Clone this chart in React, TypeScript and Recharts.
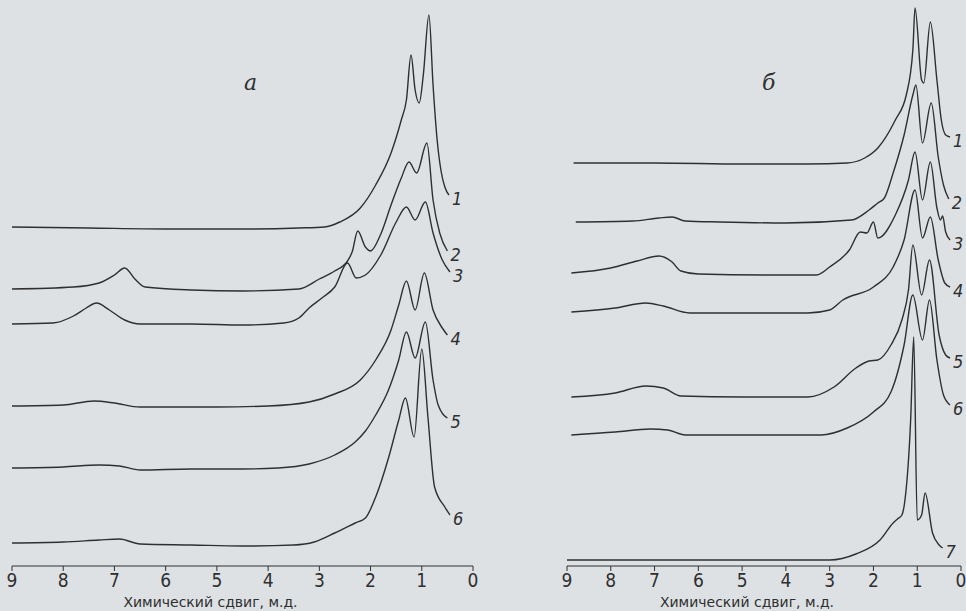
import { LineChart, Line, XAxis, YAxis } from 'recharts';

// спектры ПМР, панель а — [сдвиг, м.д., интенсивность над базовой линией]
const a1 = [[9, 1], [7.5, 0], [6, -1], [4.5, -1], [3.4, 0], [2.9, 1], [2.6, 6], [2.2, 20], [1.9, 43], [1.6, 75], [1.4, 108], [1.3, 128], [1.21, 173], [1.13, 138], [1.05, 125], [0.97, 153], [0.86, 213], [0.78, 143], [0.7, 88], [0.62, 56], [0.55, 41], [0.47, 33]];
const a2 = [[9, 0], [7.8, 2], [7.3, 6], [7, 14], [6.8, 21], [6.6, 10], [6.4, 2], [5.5, -1], [4.5, -2], [3.4, 0], [3, 10], [2.7, 18], [2.45, 28], [2.36, 37], [2.25, 58], [2.1, 42], [2, 38], [1.8, 55], [1.6, 84], [1.4, 111], [1.25, 127], [1.1, 116], [0.9, 146], [0.78, 89], [0.65, 56], [0.5, 38]];
const a3 = [[9, 0], [8.2, 1], [7.8, 8], [7.55, 16], [7.35, 21], [7.1, 14], [6.8, 4], [6.5, 0], [5.5, 0], [4.5, -1], [3.7, 1], [3.4, 6], [3.2, 16], [2.95, 26], [2.7, 37], [2.45, 61], [2.28, 46], [2.1, 49], [1.8, 69], [1.5, 102], [1.3, 117], [1.13, 104], [0.93, 122], [0.78, 91], [0.6, 64], [0.45, 52]];
const a4 = [[9, 0], [8, 1], [7.4, 5], [7, 3], [6.5, -1], [6, -1], [5, -1], [4, 0], [3.2, 4], [2.7, 12], [2.2, 26], [1.9, 46], [1.6, 76], [1.45, 101], [1.3, 125], [1.13, 96], [0.95, 133], [0.78, 96], [0.6, 78], [0.5, 71]];
const a5 = [[9, 0], [8, 1], [7.3, 3], [6.9, 2], [6.5, -2], [5.5, -1], [4.5, -1], [3.8, 0], [3.2, 4], [2.7, 13], [2.3, 26], [2.1, 37], [1.9, 53], [1.65, 78], [1.45, 108], [1.3, 136], [1.13, 110], [0.93, 146], [0.78, 88], [0.68, 63], [0.5, 50]];
const a6 = [[9, 0], [8, 1], [7.3, 3], [6.9, 4], [6.5, -1], [5.5, -2], [4.5, -3], [3.5, -2], [3.1, 1], [2.7, 10], [2.3, 20], [2.1, 25], [1.9, 46], [1.65, 85], [1.45, 123], [1.32, 145], [1.15, 106], [1, 194], [0.88, 126], [0.75, 56], [0.55, 36], [0.45, 28]];
const aOffsets = [338, 277, 242, 160, 98, 23];

// панель б
const b1 = [[8.85, 0], [7, 0], [5, -1], [3.5, -1], [2.6, 0], [2.2, 5], [1.9, 15], [1.5, 43], [1.25, 68], [1.1, 113], [1.05, 155], [0.9, 83], [0.85, 80], [0.7, 141], [0.55, 83], [0.45, 43], [0.35, 28], [0.25, 26]];
const b2 = [[8.8, 0], [7.5, 1], [6.9, 4], [6.6, 5], [6.3, 1], [5.5, 0], [4, -1], [2.5, 2], [2.1, 12], [1.9, 19], [1.75, 24], [1.55, 49], [1.3, 87], [1.1, 127], [1.03, 137], [0.88, 79], [0.68, 119], [0.52, 65], [0.4, 37], [0.28, 23]];
const b3 = [[8.9, 0], [8, 5], [7.4, 12], [6.9, 17], [6.6, 11], [6.4, 2], [6, -1], [4.5, -2], [3.3, -2], [3, 6], [2.55, 23], [2.3, 41], [2.15, 40], [2, 51], [1.9, 35], [1.5, 58], [1.2, 93], [1.05, 121], [0.88, 73], [0.7, 111], [0.55, 65], [0.47, 53], [0.42, 57], [0.35, 41], [0.25, 33]];
const b4 = [[8.9, 0], [7.9, 4], [7.2, 9], [6.8, 6], [6.2, -1], [5, -1], [3.5, -1], [3, 2], [2.7, 12], [2, 25], [1.55, 45], [1.3, 72], [1.05, 122], [0.88, 74], [0.7, 95], [0.52, 52], [0.37, 29], [0.25, 25]];
const b5 = [[8.9, 0], [7.9, 4], [7.2, 11], [6.8, 9], [6.4, 1], [5, 0], [3.5, 0], [2.9, 10], [2.4, 29], [2.1, 36], [1.9, 37], [1.6, 52], [1.35, 77], [1.2, 107], [1.1, 152], [0.9, 102], [0.72, 137], [0.5, 62], [0.35, 42], [0.25, 39]];
const b6 = [[8.9, 0], [7.9, 3], [7.1, 6], [6.7, 5], [6.3, 0], [5, 0], [3.2, 0], [2.6, 7], [2, 23], [1.6, 43], [1.3, 90], [1.1, 140], [0.88, 95], [0.72, 135], [0.55, 75], [0.4, 40], [0.25, 30]];
const b7 = [[9, 0], [6, 0], [3, 0], [2.4, 6], [1.85, 20], [1.55, 37], [1.45, 41], [1.35, 45], [1.28, 60], [1.15, 140], [1.08, 223], [1, 40], [0.9, 45], [0.82, 67], [0.65, 27], [0.5, 15], [0.42, 12]];
const bOffsets = [403, 344, 293, 254, 169, 131, 6];

const ppmTicks = [0, 1, 2, 3, 4, 5, 6, 7, 8, 9];
const axisTitle = 'Химический сдвиг, м.д.';

const INK = '#2f2f2f';
const FONT = '"Liberation Sans Narrow", "DejaVu Sans Condensed", "Noto Sans", sans-serif';

function toRows(points: number[][], offset: number) {
  return points.map(([ppm, v]) => ({ ppm, v: v + offset }));
}

function endLabel(n: number, count: number) {
  return (p: any) => {
    if (p.index !== count - 1) return null;
    return (
      <text x={p.x + 3} y={p.y + 10} fontSize={18} fontStyle="italic" fill={INK} fontFamily={FONT}>
        {n}
      </text>
    );
  };
}

function Panel({ traces, offsets, width, left, right, titleShift }: any) {
  return (
    <LineChart width={width} height={611} margin={{ top: 0, right, left, bottom: 0 }}>
      <XAxis
        type="number"
        dataKey="ppm"
        domain={[0, 9]}
        ticks={ppmTicks}
        reversed
        allowDataOverflow
        height={45}
        stroke={INK}
        tickSize={5}
        tickMargin={3}
        tick={{ fill: INK, fontSize: 19, fontFamily: FONT }}
        label={{
          content: (lp: any) => {
            const vb = lp.viewBox;
            return (
              <text x={vb.x + vb.width / 2 + titleShift} y={vb.y + vb.height - 4} textAnchor="middle"
                fontSize={14} fill={INK} fontFamily='"DejaVu Sans", sans-serif'>
                {axisTitle}
              </text>
            );
          },
        }}
      />
      <YAxis type="number" domain={[0, 566]} hide allowDataOverflow />
      {traces.map((t: number[][], i: number) => (
        <Line
          key={i}
          data={toRows(t, offsets[i])}
          dataKey="v"
          type="monotone"
          stroke={INK}
          strokeWidth={1.4}
          dot={false}
          isAnimationActive={false}
          label={endLabel(i + 1, t.length)}
        />
      ))}
    </LineChart>
  );
}

export default function App() {
  return (
    <div style={{ position: 'absolute', left: 0, top: 0, width: 966, height: 611, background: '#dde1e4', overflow: 'hidden' }}>
      <div style={{ position: 'absolute', left: 0, top: 0 }}>
        <Panel traces={[a1, a2, a3, a4, a5, a6]} offsets={aOffsets} width={490} left={12} right={17} titleShift={-32} />
      </div>
      <div style={{ position: 'absolute', left: 490, top: 0 }}>
        <Panel traces={[b1, b2, b3, b4, b5, b6, b7]} offsets={bOffsets} width={476} left={77} right={5} titleShift={-17} />
      </div>
      <div style={{ position: 'absolute', left: 244, top: 70, fontSize: 22, fontStyle: 'italic', color: INK, fontFamily: '"DejaVu Serif", serif' }}>а</div>
      <div style={{ position: 'absolute', left: 762, top: 70, fontSize: 22, fontStyle: 'italic', color: INK, fontFamily: '"DejaVu Serif", serif' }}>б</div>
    </div>
  );
}
